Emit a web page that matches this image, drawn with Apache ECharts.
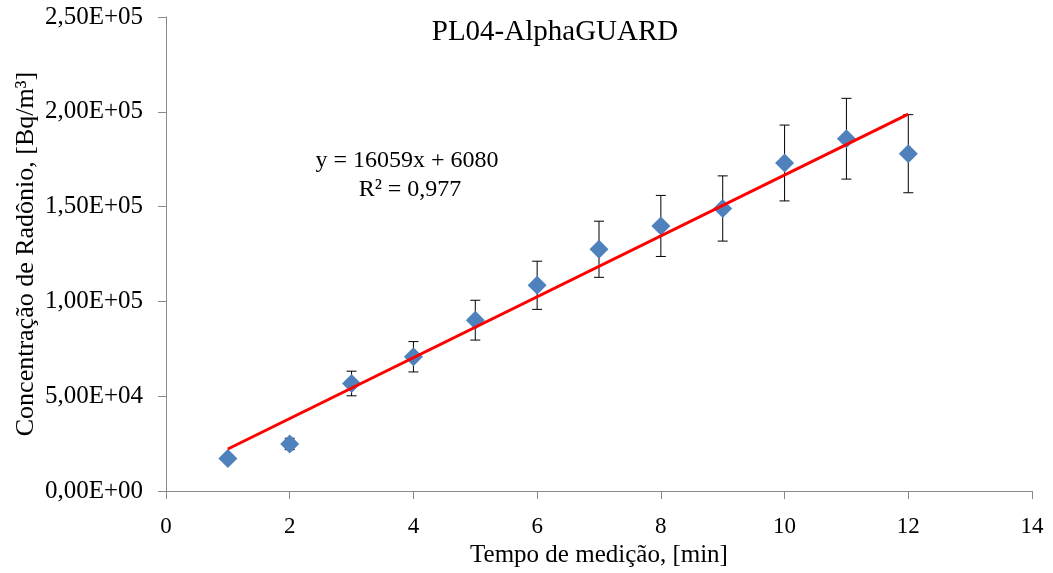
<!DOCTYPE html>
<html>
<head>
<meta charset="utf-8">
<script src="https://cdn.jsdelivr.net/npm/echarts@6/dist/echarts.min.js"></script>
<style>html,body{margin:0;padding:0;background:#fff;}#c{width:1053px;height:573px;}</style>
</head>
<body>
<div id="c"></div>
<script>
// Data
const timeMin = [1, 2, 3, 4, 5, 6, 7, 8, 9, 10, 11, 12];
const radonConc = [17200, 24800, 56700, 70800, 90100, 108500, 127500, 139800, 149000, 173000, 185800, 177900];
const radonErr = [1500, 3000, 6500, 8000, 10500, 12700, 14800, 16100, 17200, 20000, 21300, 20600];
const trendX = [1, 12];
const trendY = [22140, 198790];
const titleText = 'PL04-AlphaGUARD';
const eqText = 'y = 16059x + 6080';
const r2Text = 'R² = 0,977';
const xName = 'Tempo de medição, [min]';
const yName = 'Concentração de Radônio, [Bq/m³]';

const FONT = '"Liberation Serif", "Times New Roman", serif';

function sci(v) {
  if (v === 0) return '0,00E+00';
  const e = Math.floor(Math.log10(Math.abs(v)) + 1e-9);
  const m = v / Math.pow(10, e);
  const es = (e < 0 ? '-' : '+') + String(Math.abs(e)).padStart(2, '0');
  return m.toFixed(2).replace('.', ',') + 'E' + es;
}

const scatterData = timeMin.map((x, i) => [x, radonConc[i]]);
const errData = timeMin.map((x, i) => [x, radonConc[i] - radonErr[i], radonConc[i] + radonErr[i]]);
const trendData = trendX.map((x, i) => [x, trendY[i]]);

const chart = echarts.init(document.getElementById('c'), null, {renderer: 'canvas'});
chart.setOption({
  animation: false,
  backgroundColor: '#ffffff',
  textStyle: {fontFamily: FONT},
  grid: {left: 166, right: 21, top: 17, bottom: 82, containLabel: false},
  xAxis: {
    type: 'value', min: 0, max: 14, interval: 2,
    name: xName, nameLocation: 'middle', nameGap: 47,
    nameTextStyle: {fontFamily: FONT, fontSize: 25, color: '#000'},
    axisLine: {show: true, lineStyle: {color: '#898989', width: 1}},
    axisTick: {show: true, length: 8, inside: false, lineStyle: {color: '#898989'}},
    axisLabel: {fontFamily: FONT, fontSize: 23, color: '#000', margin: 24},
    splitLine: {show: false}
  },
  yAxis: {
    type: 'value', min: 0, max: 250000, interval: 50000,
    axisLine: {show: true, lineStyle: {color: '#898989', width: 1}},
    axisTick: {show: true, length: 8, inside: false, lineStyle: {color: '#898989'}},
    axisLabel: {fontFamily: FONT, fontSize: 25, color: '#000', margin: 23, formatter: sci},
    splitLine: {show: false}
  },
  graphic: [
    {type: 'text', x: 555, y: 18, style: {text: titleText, font: '29px ' + FONT, fill: '#000', align: 'center', verticalAlign: 'top'}},
    {type: 'text', x: 407, y: 149, style: {text: eqText, font: '24px ' + FONT, fill: '#000', align: 'center', verticalAlign: 'top'}},
    {type: 'text', x: 410, y: 178, style: {text: r2Text, font: '24px ' + FONT, fill: '#000', align: 'center', verticalAlign: 'top'}},
    {type: 'text', x: 26, y: 254, rotation: Math.PI / 2,
      style: {text: yName, font: '26px ' + FONT, fill: '#000', align: 'center', verticalAlign: 'middle'}}
  ],
  series: [
    {
      type: 'custom', z: 1,
      data: errData,
      encode: {x: 0, y: [1, 2]},
      renderItem: function (params, api) {
        const x = api.value(0);
        const lo = api.coord([x, api.value(1)]);
        const hi = api.coord([x, api.value(2)]);
        const cw = 5;
        const st = {stroke: '#000', lineWidth: 1};
        return {
          type: 'group',
          children: [
            {type: 'line', shape: {x1: lo[0], y1: lo[1], x2: hi[0], y2: hi[1]}, style: st},
            {type: 'line', shape: {x1: lo[0] - cw, y1: lo[1], x2: lo[0] + cw, y2: lo[1]}, style: st},
            {type: 'line', shape: {x1: hi[0] - cw, y1: hi[1], x2: hi[0] + cw, y2: hi[1]}, style: st}
          ]
        };
      }
    },
    {
      type: 'scatter', z: 2,
      data: scatterData,
      symbol: 'diamond', symbolSize: 19,
      itemStyle: {color: '#4F81BD', opacity: 1}
    },
    {
      type: 'line', z: 3,
      data: trendData,
      showSymbol: false, symbol: 'none',
      lineStyle: {color: '#FF0000', width: 3}
    }
  ]
});
</script>
</body>
</html>
